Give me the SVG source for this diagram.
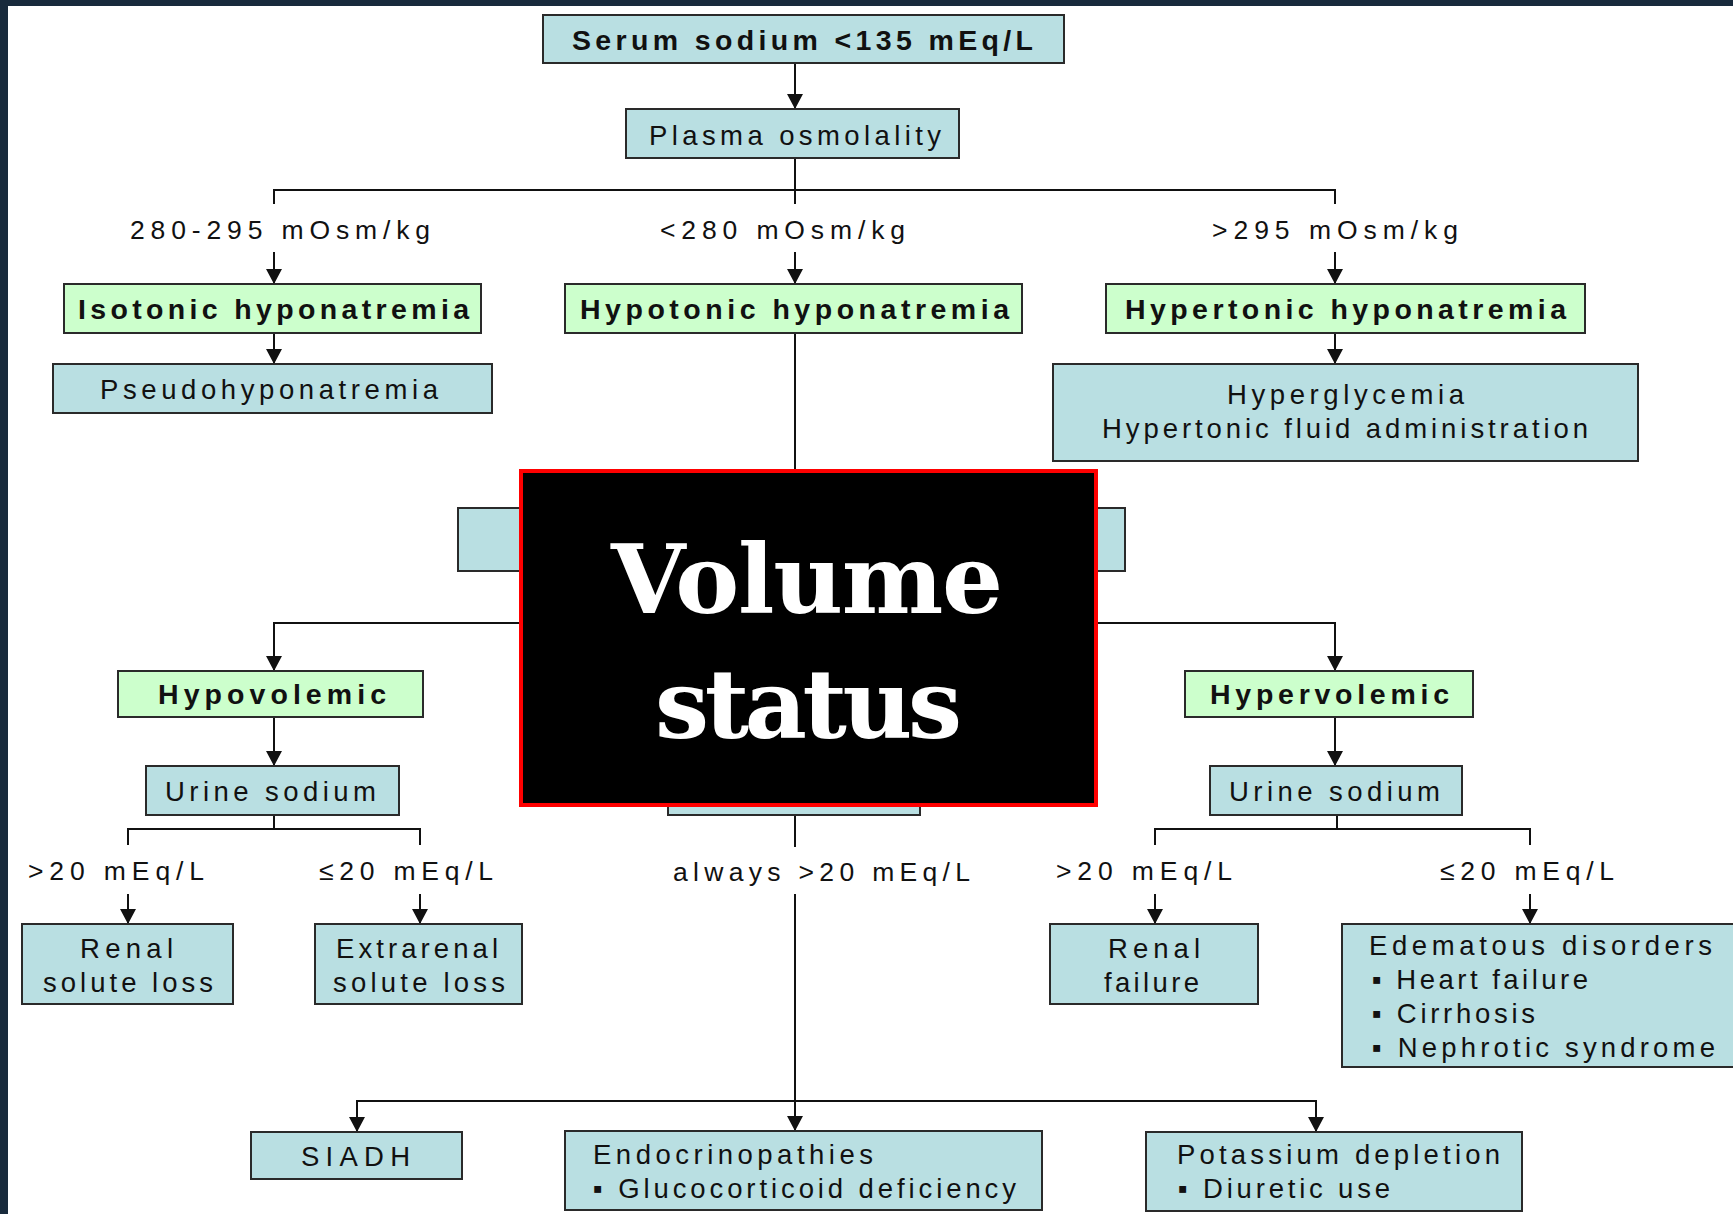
<svg xmlns="http://www.w3.org/2000/svg" width="1733" height="1214" viewBox="0 0 1733 1214">
<defs>
<style>
.b{fill:#b9dfe2;stroke:#2a2a2a;stroke-width:2}
.g{fill:#ccffcc;stroke:#2a2a2a;stroke-width:2}
.t{font-family:"Liberation Sans","DejaVu Sans",Arial,sans-serif;font-size:27.5px;fill:#111}
.l{font-family:"Liberation Sans","DejaVu Sans",Arial,sans-serif;font-size:26.5px;fill:#111}
.tb{font-family:"Liberation Sans",Arial,sans-serif;font-size:28.5px;font-weight:bold;fill:#111}
.v{font-family:"DejaVu Serif","Liberation Serif",serif;font-size:96px;font-weight:bold;fill:#fff}
.c{fill:none;stroke:#111;stroke-width:2}
.a{marker-end:url(#ah)}
</style>
<marker id="ah" viewBox="0 0 15 16" refX="15" refY="8" markerWidth="15" markerHeight="16" markerUnits="userSpaceOnUse" orient="auto">
<path d="M0,0 L15,8 L0,16 z" fill="#111"/>
</marker>
</defs>
<rect x="0" y="0" width="1733" height="1214" fill="#182a3c"/>
<rect x="8" y="6" width="1725" height="1208" fill="#ffffff"/>

<g id="connectors">
<path class="c a" d="M795,63 V109"/>
<path class="c" d="M795,158 V204"/>
<path class="c" d="M274,204 V190 H1335 V204"/>
<path class="c a" d="M274,252 V284"/>
<path class="c a" d="M795,252 V284"/>
<path class="c a" d="M1335,252 V284"/>
<path class="c a" d="M274,333 V364"/>
<path class="c a" d="M1335,333 V364"/>
<path class="c" d="M795,333 V508"/>
<path class="c" d="M795,571 V623"/>
<path class="c a" d="M795,623 H274 V671"/>
<path class="c a" d="M795,623 H1335 V671"/>
<path class="c a" d="M274,717 V766"/>
<path class="c a" d="M1335,717 V766"/>
<path class="c" d="M274,815 V829"/>
<path class="c" d="M128,845 V829 H420 V845"/>
<path class="c a" d="M128,894 V924"/>
<path class="c a" d="M420,894 V924"/>
<path class="c" d="M1337,815 V829"/>
<path class="c" d="M1155,845 V829 H1530 V845"/>
<path class="c a" d="M1155,894 V924"/>
<path class="c a" d="M1530,894 V924"/>
<path class="c" d="M795,815 V847"/>
<path class="c a" d="M795,894 V1131"/>
<path class="c a" d="M795,1101 H357 V1132"/>
<path class="c a" d="M795,1101 H1316 V1132"/>
</g>

<g id="serum"><rect class="b" x="543" y="15" width="521" height="48"/>
<text class="tb" x="572" y="50" textLength="461" lengthAdjust="spacing">Serum sodium &lt;135 mEq/L</text></g>
<g id="plasma"><rect class="b" x="626" y="109" width="333" height="49"/>
<text class="t" x="649" y="145" textLength="292" lengthAdjust="spacing">Plasma osmolality</text></g>

<g id="label-iso"><text class="l" x="130" y="239" textLength="300" lengthAdjust="spacing">280-295 mOsm/kg</text></g>
<g id="label-hypo"><text class="l" x="660" y="239" textLength="245" lengthAdjust="spacing">&lt;280 mOsm/kg</text></g>
<g id="label-hyper"><text class="l" x="1212" y="239" textLength="246" lengthAdjust="spacing">&gt;295 mOsm/kg</text></g>

<g id="isotonic"><rect class="g" x="64" y="284" width="417" height="49"/>
<text class="tb" x="78" y="319" textLength="391" lengthAdjust="spacing">Isotonic hyponatremia</text></g>
<g id="hypotonic"><rect class="g" x="565" y="284" width="457" height="49"/>
<text class="tb" x="580" y="319" textLength="429" lengthAdjust="spacing">Hypotonic hyponatremia</text></g>
<g id="hypertonic"><rect class="g" x="1106" y="284" width="479" height="49"/>
<text class="tb" x="1125" y="319" textLength="441" lengthAdjust="spacing">Hypertonic hyponatremia</text></g>

<g id="pseudo"><rect class="b" x="53" y="364" width="439" height="49"/>
<text class="t" x="100" y="399" textLength="338" lengthAdjust="spacing">Pseudohyponatremia</text></g>
<g id="hyperglycemia"><rect class="b" x="1053" y="364" width="585" height="97"/>
<text class="t" x="1227" y="404" textLength="237" lengthAdjust="spacing">Hyperglycemia</text>
<text class="t" x="1102" y="438" textLength="486" lengthAdjust="spacing">Hypertonic fluid administration</text></g>

<g id="hidden-volume"><rect class="b" x="458" y="508" width="667" height="63"/></g>

<g id="hypovolemic"><rect class="g" x="118" y="671" width="305" height="46"/>
<text class="tb" x="158" y="704" textLength="228" lengthAdjust="spacing">Hypovolemic</text></g>
<g id="hypervolemic"><rect class="g" x="1185" y="671" width="288" height="46"/>
<text class="tb" x="1210" y="704" textLength="239" lengthAdjust="spacing">Hypervolemic</text></g>

<g id="urine-left"><rect class="b" x="146" y="766" width="253" height="49"/>
<text class="t" x="165" y="801" textLength="211" lengthAdjust="spacing">Urine sodium</text></g>
<g id="hidden-middle"><rect class="b" x="668" y="766" width="252" height="49"/></g>
<g id="urine-right"><rect class="b" x="1210" y="766" width="252" height="49"/>
<text class="t" x="1229" y="801" textLength="211" lengthAdjust="spacing">Urine sodium</text></g>

<g id="labels-urine">
<text class="l" x="28" y="880" textLength="176" lengthAdjust="spacing">&gt;20 mEq/L</text>
<text class="l" x="319" y="880" textLength="174" lengthAdjust="spacing">≤20 mEq/L</text>
<text class="l" x="673" y="881" textLength="297" lengthAdjust="spacing">always &gt;20 mEq/L</text>
<text class="l" x="1056" y="880" textLength="176" lengthAdjust="spacing">&gt;20 mEq/L</text>
<text class="l" x="1440" y="880" textLength="174" lengthAdjust="spacing">≤20 mEq/L</text>
</g>

<g id="renal-solute"><rect class="b" x="22" y="924" width="211" height="80"/>
<text class="t" x="80" y="958" textLength="93" lengthAdjust="spacing">Renal</text>
<text class="t" x="43" y="992" textLength="170" lengthAdjust="spacing">solute loss</text></g>
<g id="extrarenal"><rect class="b" x="315" y="924" width="207" height="80"/>
<text class="t" x="336" y="958" textLength="162" lengthAdjust="spacing">Extrarenal</text>
<text class="t" x="333" y="992" textLength="172" lengthAdjust="spacing">solute loss</text></g>
<g id="renal-failure"><rect class="b" x="1050" y="924" width="208" height="80"/>
<text class="t" x="1108" y="958" textLength="92" lengthAdjust="spacing">Renal</text>
<text class="t" x="1104" y="992" textLength="95" lengthAdjust="spacing">failure</text></g>
<g id="edematous"><rect class="b" x="1342" y="924" width="400" height="143"/>
<text class="t" x="1369" y="955" textLength="343" lengthAdjust="spacing">Edematous disorders</text>
<text class="t" x="1372" y="989" textLength="216" lengthAdjust="spacing">▪ Heart failure</text>
<text class="t" x="1372" y="1023" textLength="163" lengthAdjust="spacing">▪ Cirrhosis</text>
<text class="t" x="1372" y="1057" textLength="343" lengthAdjust="spacing">▪ Nephrotic syndrome</text></g>

<g id="siadh"><rect class="b" x="251" y="1132" width="211" height="47"/>
<text class="t" x="301" y="1166" textLength="109" lengthAdjust="spacing">SIADH</text></g>
<g id="endocrino"><rect class="b" x="565" y="1131" width="477" height="79"/>
<text class="t" x="593" y="1164" textLength="280" lengthAdjust="spacing">Endocrinopathies</text>
<text class="t" x="593" y="1198" textLength="423" lengthAdjust="spacing">▪ Glucocorticoid deficiency</text></g>
<g id="potassium"><rect class="b" x="1146" y="1132" width="376" height="79"/>
<text class="t" x="1177" y="1164" textLength="323" lengthAdjust="spacing">Potassium depletion</text>
<text class="t" x="1178" y="1198" textLength="212" lengthAdjust="spacing">▪ Diuretic use</text></g>

<g id="volume-status">
<rect x="521" y="471" width="575" height="334" fill="#000" stroke="#ff0000" stroke-width="4"/>
<text class="v" x="611" y="613" textLength="392" lengthAdjust="spacing">Volume</text>
<text class="v" x="655" y="738" textLength="307" lengthAdjust="spacing">status</text>
</g>
</svg>
